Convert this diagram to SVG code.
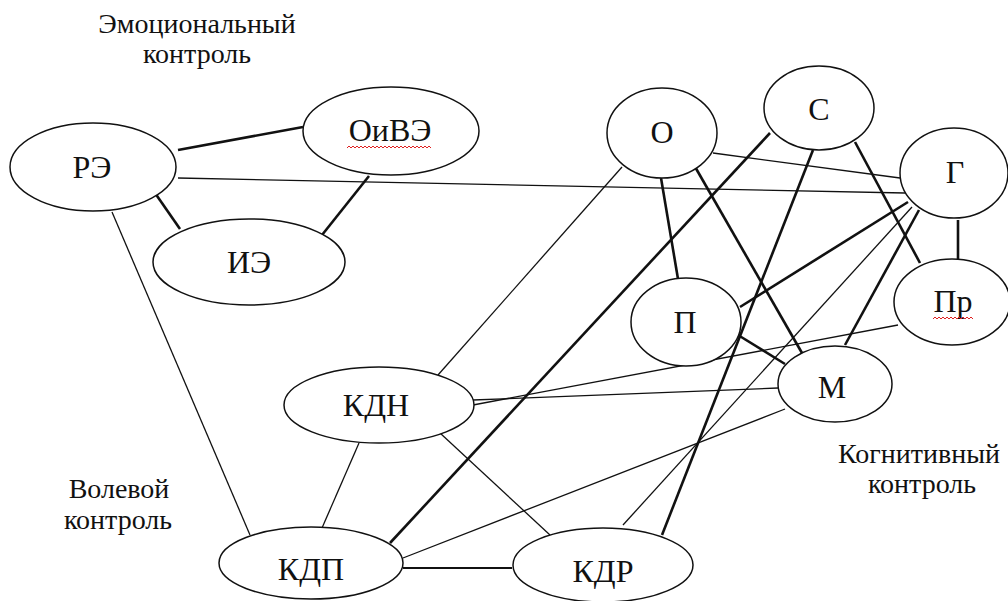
<svg xmlns="http://www.w3.org/2000/svg" width="1008" height="601" viewBox="0 0 1008 601" font-family="'Liberation Serif', 'Times New Roman', Tinos, 'DejaVu Serif', serif">
<style>
.node ellipse{fill:#fff;stroke:#111;stroke-width:1.5}
.lbl{font-size:32px;fill:#111;text-anchor:middle}
.cap{font-size:28px;fill:#111;text-anchor:middle}
.thick{stroke:#111;stroke-width:2.6;fill:none}
.thin{stroke:#111;stroke-width:1.3;fill:none}
.wavy{stroke:#e02020;stroke-width:1;fill:none}
</style>
<rect width="1008" height="601" fill="#fff"/>
<g id="captions">
<text class="cap" x="197" y="33">Эмоциональный</text>
<text class="cap" x="197" y="63">контроль</text>
<text class="cap" x="119" y="498">Волевой</text>
<text class="cap" x="118" y="529">контроль</text>
<text class="cap" x="919" y="463">Когнитивный</text>
<text class="cap" x="922" y="493">контроль</text>
</g>
<g id="connectors">
<line class="thick" x1="178" y1="150" x2="303" y2="127"/>
<line class="thick" x1="155" y1="193" x2="180" y2="229"/>
<line class="thick" x1="369" y1="176" x2="322" y2="235"/>
<line class="thick" x1="661" y1="178" x2="678" y2="279"/>
<line class="thick" x1="694" y1="165" x2="802" y2="353"/>
<line class="thick" x1="770" y1="133" x2="390" y2="543"/>
<line class="thick" x1="813" y1="150" x2="662" y2="535"/>
<line class="thick" x1="855" y1="142" x2="920" y2="263"/>
<line class="thick" x1="908" y1="202" x2="740" y2="307"/>
<line class="thick" x1="919" y1="210" x2="845" y2="345"/>
<line class="thick" x1="958" y1="220" x2="958" y2="260"/>
<line class="thick" x1="738" y1="335" x2="785" y2="364"/>
<line class="thick" x1="403" y1="568" x2="512" y2="568" style="stroke-width:1.8"/>
<line class="thin" x1="178" y1="178" x2="905" y2="193"/>
<line class="thin" x1="713" y1="153" x2="900" y2="178"/>
<line class="thin" x1="622" y1="167" x2="438" y2="375"/>
<line class="thin" x1="112" y1="212" x2="250" y2="535"/>
<line class="thin" x1="359" y1="443" x2="322" y2="528"/>
<line class="thin" x1="440" y1="433" x2="550" y2="535"/>
<line class="thin" x1="473" y1="400" x2="778" y2="388"/>
<line class="thin" x1="473" y1="405" x2="898" y2="325"/>
<line class="thin" x1="403" y1="558" x2="785" y2="409"/>
<line class="thin" x1="623" y1="525" x2="912" y2="207"/>
</g>
<g id="node-RE" class="node"><ellipse cx="93" cy="167" rx="83" ry="44"/><text class="lbl" x="92" y="178">РЭ</text></g>
<g id="node-OiVE" class="node"><ellipse cx="391" cy="131" rx="88" ry="44"/><text class="lbl" x="390" y="141">ОиВЭ</text>
<path class="wavy" d="M347 148 l2 -2 l2 2 l2 -2 l2 2 l2 -2 l2 2 l2 -2 l2 2 l2 -2 l2 2 l2 -2 l2 2 l2 -2 l2 2 l2 -2 l2 2 l2 -2 l2 2 l2 -2 l2 2 l2 -2 l2 2 l2 -2 l2 2 l2 -2 l2 2 l2 -2 l2 2 l2 -2 l2 2 l2 -2 l2 2 l2 -2 l2 2 l2 -2 l2 2 l2 -2 l2 2 l2 -2 l2 2 l2 -2 l2 2"/></g>
<g id="node-IE" class="node"><ellipse cx="249" cy="262" rx="96" ry="43"/><text class="lbl" x="249" y="273">ИЭ</text></g>
<g id="node-O" class="node"><ellipse cx="662" cy="133" rx="55" ry="45"/><text class="lbl" x="662" y="143">О</text></g>
<g id="node-S" class="node"><ellipse cx="819" cy="108" rx="55" ry="42"/><text class="lbl" x="819" y="120">С</text></g>
<g id="node-G" class="node"><ellipse cx="954" cy="173" rx="54" ry="45"/><text class="lbl" x="955" y="183">Г</text></g>
<g id="node-Pr" class="node"><ellipse cx="952" cy="302" rx="58" ry="43"/><text class="lbl" x="953" y="312">Пр</text>
<path class="wavy" d="M933 319 l2 -2 l2 2 l2 -2 l2 2 l2 -2 l2 2 l2 -2 l2 2 l2 -2 l2 2 l2 -2 l2 2 l2 -2 l2 2 l2 -2 l2 2 l2 -2 l2 2 l2 -2 l2 2"/></g>
<g id="node-P" class="node"><ellipse cx="686" cy="322" rx="55" ry="44"/><text class="lbl" x="685" y="333">П</text></g>
<g id="node-M" class="node"><ellipse cx="835" cy="384" rx="57" ry="38"/><text class="lbl" x="832" y="398">М</text></g>
<g id="node-KDN" class="node"><ellipse cx="379" cy="405" rx="95" ry="38"/><text class="lbl" x="376" y="416">КДН</text></g>
<g id="node-KDP" class="node"><ellipse cx="311" cy="563" rx="92" ry="36"/><text class="lbl" x="311" y="580">КДП</text></g>
<g id="node-KDR" class="node"><ellipse cx="603" cy="565" rx="90" ry="37"/><text class="lbl" x="603" y="582">КДР</text></g>
</svg>
